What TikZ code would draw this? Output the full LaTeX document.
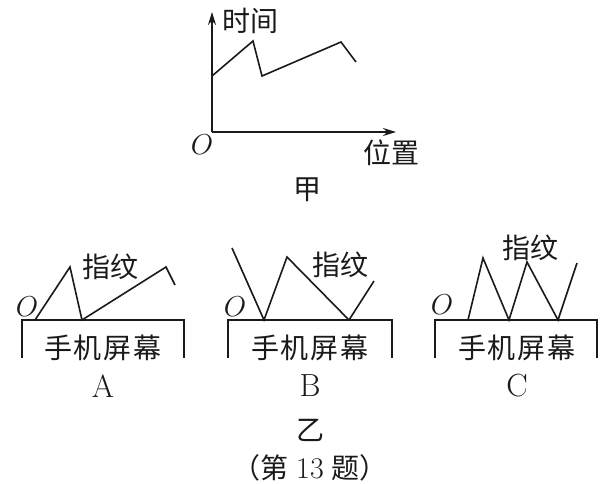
\documentclass[tikz,border=0pt]{standalone}
\usepackage{fontspec}
\newfontfamily\cjk{Noto Sans CJK SC}
\usetikzlibrary{arrows.meta,positioning}
\definecolor{fpInk}{HTML}{1A1A1A}
\tikzset{
  fp axis/.style={
    draw=fpInk,
    line width=.8pt,
    -{Stealth[length=6.5pt,width=4pt]}
  },
  fp trace/.style={draw=fpInk, line width=.8pt, line join=miter},
  fp screen/.style={draw=fpInk, line width=.8pt},
  fp label/.style={font=\cjk\fontsize{14}{16}\selectfont, text=fpInk, inner sep=0pt},
  fp letter/.style={font=\fontsize{16}{18}\selectfont, text=fpInk, inner sep=0pt},
  fp origin/.style={font=\fontsize{15}{17}\selectfont, text=fpInk, inner sep=0pt}
}
\begin{document}
\begin{tikzpicture}[x=.5pt,y=-.5pt]
  \useasboundingbox[fill=white] (0,0) rectangle (606,483);

  % graph 甲
  \coordinate (orig) at (212,132);
  \coordinate (ytip) at (212,12);
  \coordinate (xtip) at (396,132);
  \draw[fp axis] (orig) -- (ytip);
  \draw[fp axis] (orig) -- (xtip);
  \draw[fp trace] (212,76) -- (253,41) -- (262,76) -- (341,42) -- (356,62);
  \node[fp origin] (origLabel) at (202,145) {$O$};
  \node[fp label] (timeLabel) at (250,21) {时间};
  \node[fp label] (posLabel) at (391,153) {位置};
  \node[fp label] (jia) at (307,190) {甲};

  % the three screens
  \foreach \l/\r/\cx/\name in {22/184/103/A, 228/392/310/B, 435/597/517/C} {
    \draw[fp screen] (\l,358) -- (\l,320) -- (\r,320) -- (\r,358);
    \node[fp label] (screen\name) at (\cx,348) {手\kern1pt 机\kern1pt 屏\kern1pt 幕};
    \node[fp letter] (case\name) at (\cx,386) {\name};
  }

  % A
  \draw[fp trace] (35,320) -- (70,267) -- (82,320) -- (166,267) -- (175,285);
  \node[fp origin] (oA) at (27,307) {$O$};
  \node[fp label] (printA) at (111,267) {指纹};
  % B
  \draw[fp trace] (232,248) -- (264,320) -- (287,257) -- (349,320) -- (374,281);
  \node[fp origin] (oB) at (235,307) {$O$};
  \node[fp label] (printB) at (340,265) {指纹};
  % C
  \draw[fp trace] (468,320) -- (483,258) -- (509,320) -- (527,262)
    -- (558,320) -- (577,263);
  \node[fp origin] (oC) at (442,305) {$O$};
  \node[fp label] (printC) at (530,248) {指纹};

  \node[fp label] (yi) at (310,430) {乙};
  \node[fp label] (caption) at (310,468)
    {（第\hspace{4pt}{\rmfamily\fontsize{15}{17}\selectfont 13}\hspace{4pt}题）};
\end{tikzpicture}
\end{document}
